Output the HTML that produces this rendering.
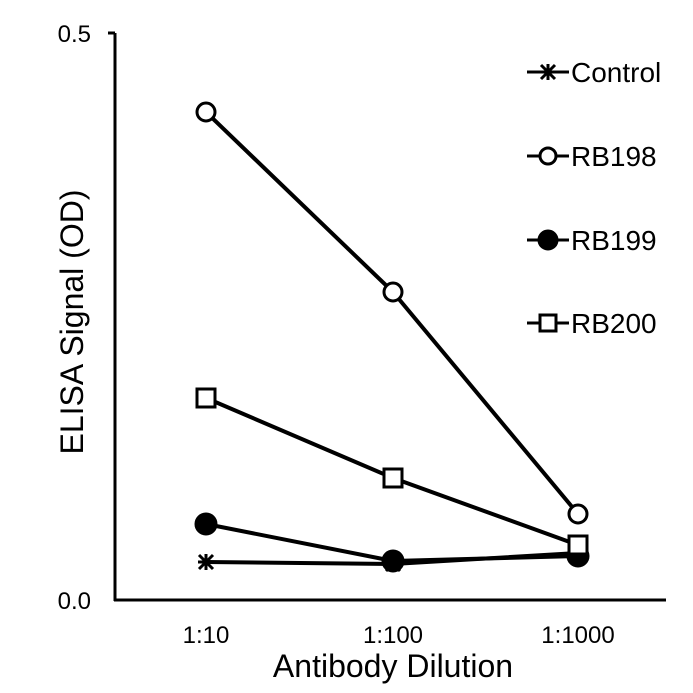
<!DOCTYPE html>
<html><head><style>body{margin:0;background:#fff}svg{display:block}</style></head>
<body>
<svg width="693" height="693" xmlns="http://www.w3.org/2000/svg" font-family="Liberation Sans, sans-serif">
<rect width="693" height="693" fill="#fff"/>
<g stroke="#000" stroke-width="3" fill="none">
<line x1="115" y1="33" x2="115" y2="601"/>
<line x1="114" y1="600" x2="666" y2="600"/>
<line x1="108" y1="33" x2="115" y2="33"/>
</g>
<g font-size="24" fill="#000">
<text x="91" y="42" text-anchor="end">0.5</text>
<text x="91" y="609" text-anchor="end">0.0</text>
<text x="206" y="643" text-anchor="middle">1:10</text>
<text x="393" y="643" text-anchor="middle">1:100</text>
<text x="578" y="643" text-anchor="middle">1:1000</text>
</g>
<text x="393" y="677" text-anchor="middle" font-size="32">Antibody Dilution</text>
<text transform="translate(83,322) rotate(-90)" text-anchor="middle" font-size="32">ELISA Signal (OD)</text>
<g stroke="#000" stroke-width="4" fill="none">
<polyline points="206,562 393,564 578,553"/>
<polyline points="206,524 393,561 578,556"/>
<polyline points="206,398 393,478 578,545"/>
<polyline points="206,112 393,292 578,514"/>
</g>
<g stroke="#000" stroke-width="3">
<circle cx="206" cy="524" r="10" fill="#000"/>
<circle cx="393" cy="561" r="10" fill="#000"/>
<circle cx="578" cy="556" r="10" fill="#000"/>
<rect x="197" y="389" width="18" height="18" fill="#fff"/>
<rect x="384" y="469" width="18" height="18" fill="#fff"/>
<rect x="569" y="536" width="18" height="18" fill="#fff"/>
<circle cx="206" cy="112" r="9" fill="#fff"/>
<circle cx="393" cy="292" r="9" fill="#fff"/>
<circle cx="578" cy="514" r="9" fill="#fff"/>
<path d="M199,555 L213,569 M213,555 L199,569 M206,554 V570 M198,562 H214"/>
<path d="M386,557 L400,571 M400,557 L386,571"/>
</g>
<g stroke="#000" stroke-width="3">
<line x1="527" y1="72" x2="569" y2="72"/>
<path d="M541,65 L555,79 M555,65 L541,79 M548,64 V80"/>
<line x1="527" y1="156" x2="569" y2="156"/>
<circle cx="548" cy="156" r="8" fill="#fff"/>
<line x1="527" y1="240" x2="569" y2="240"/>
<circle cx="548" cy="240" r="9" fill="#000"/>
<line x1="527" y1="323" x2="569" y2="323"/>
<rect x="540" y="315" width="16" height="16" fill="#fff"/>
</g>
<g font-size="28" fill="#000">
<text x="571" y="82">Control</text>
<text x="571" y="166">RB198</text>
<text x="571" y="250">RB199</text>
<text x="571" y="333">RB200</text>
</g>
</svg>
</body></html>
